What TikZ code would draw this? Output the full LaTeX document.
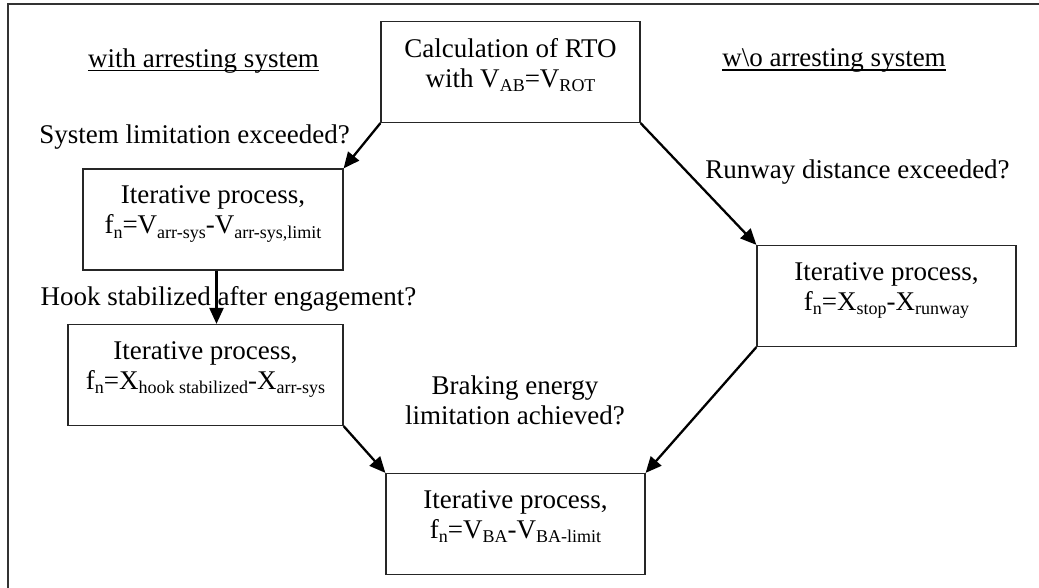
\documentclass[tikz,border=0pt]{standalone}
\usepackage{fontspec}
\setmainfont{Liberation Serif}
\usetikzlibrary{arrows.meta}
\newcommand\mysub[1]{\raisebox{-4.5pt}{\fontsize{18}{18}\selectfont #1}}
\newcommand\lowstrut{\rule[-19pt]{0pt}{19pt}}
\begin{document}
\begin{tikzpicture}[x=1pt,y=-1pt,
  every node/.style={inner sep=0pt, font=\fontsize{27}{30}\selectfont},
  procbox/.style={draw=black!85, line width=1.2pt, align=center,
    minimum width=#1, minimum height=101pt},
  lbl/.style={anchor=base, align=center},
  arr/.style={line width=2.3pt, -{Triangle[length=16pt,width=14pt]}},
  uline/.style={line width=1.5pt}
]
\useasboundingbox (0,0) rectangle (1039,587);
\draw[line width=2pt, black!80] (8,4) rectangle (1060,610);

% boxes
\node[procbox=259pt] (top) at (510.5,72) {Calculation of RTO\\with V\mysub{AB}=V\mysub{ROT}\lowstrut};
\node[procbox=260pt] (l1) at (213,219.5) {Iterative process,\\f\mysub{n}=V\mysub{arr-sys}-V\mysub{arr-sys,limit}\lowstrut};
\node[procbox=275pt] (l2) at (205.5,375) {Iterative process,\\f\mysub{n}=X\mysub{hook stabilized}-X\mysub{arr-sys}\lowstrut};
\node[procbox=259pt] (rt) at (886.5,296) {Iterative process,\\f\mysub{n}=X\mysub{stop}-X\mysub{runway}\lowstrut};
\node[procbox=259pt] (bt) at (515.5,524) {Iterative process,\\f\mysub{n}=V\mysub{BA}-V\mysub{BA-limit}\lowstrut};

% labels
\node[lbl] (with) at (203.5,67) {with arresting system};
\node[lbl] (wo) at (834,66.5) {w\textbackslash o arresting system};
\node[lbl] (syslim) at (194.5,143) {System limitation exceeded?};
\node[lbl] (runway) at (857.5,178) {Runway distance exceeded?};
\node[lbl] (hook) at (228.5,305) {Hook stabilized after engagement?};
\node[lbl] (braking) at (515,424) {Braking energy\\limitation achieved?};

\draw[uline] ([yshift=-3.5pt]with.base west) -- ([yshift=-3.5pt]with.base east);
\draw[uline] ([yshift=-3.5pt]wo.base west) -- ([yshift=-3.5pt]wo.base east);

% connectors
\draw[arr] (top.south west) -- (l1.north east);
\draw[arr] (top.south east) -- (rt.north west);
\draw[arr] ([xshift=3.5pt]l1.south) -- ([xshift=3.5pt]l1.south |- l2.north);
\draw[arr] (l2.south east) -- (bt.north west);
\draw[arr] (rt.south west) -- (bt.north east);
\end{tikzpicture}
\end{document}
